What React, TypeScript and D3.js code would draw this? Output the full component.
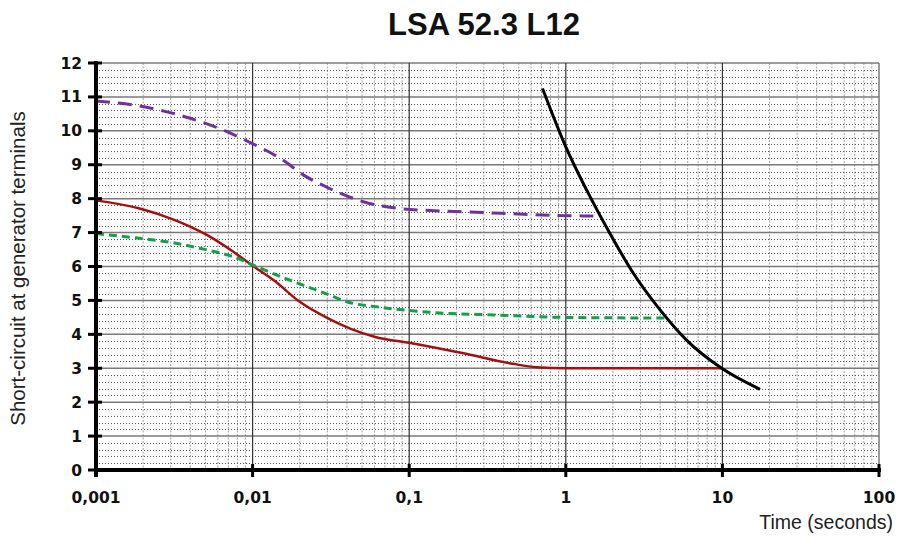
import { useEffect, useRef } from 'react'
import * as d3 from 'd3'

// time in seconds, value in multiples of nominal current
const purpleTime = [0.001, 0.0019, 0.004, 0.0065, 0.0099, 0.015, 0.022, 0.031, 0.041, 0.051, 0.083, 0.136, 0.3, 0.54, 0.96, 1.5]
const purpleValue = [10.88, 10.73, 10.37, 10.02, 9.63, 9.19, 8.65, 8.3, 8.06, 7.91, 7.72, 7.65, 7.59, 7.54, 7.5, 7.49]

const redTime = [0.001, 0.0019, 0.0031, 0.0051, 0.0075, 0.0101, 0.0136, 0.02, 0.031, 0.042, 0.06, 0.106, 0.222, 0.46, 0.65, 1, 10]
const redValue = [7.95, 7.71, 7.39, 6.93, 6.44, 6.01, 5.6, 4.96, 4.45, 4.17, 3.93, 3.73, 3.44, 3.13, 3.03, 3.0, 3.0]

const greenTime = [0.001, 0.0019, 0.0031, 0.0051, 0.0075, 0.0101, 0.0142, 0.021, 0.031, 0.04, 0.065, 0.136, 0.36, 0.96, 4.3]
const greenValue = [6.97, 6.83, 6.7, 6.49, 6.29, 6.04, 5.75, 5.45, 5.16, 4.96, 4.8, 4.65, 4.57, 4.5, 4.48]

const blackTime = [0.71, 1.0, 1.36, 1.91, 2.7, 4.0, 5.9, 9.9, 17.4]
const blackValue = [11.25, 9.53, 8.25, 6.98, 5.8, 4.72, 3.83, 3.0, 2.38]

const xTicks = [0.001, 0.01, 0.1, 1, 10, 100]
const xTickLabels = ['0,001', '0,01', '0,1', '1', '10', '100']
const yTicks = d3.range(0, 13)

const series = [
  { time: purpleTime, value: purpleValue, color: '#7030a0', width: 3, dash: '14,8' },
  { time: redTime, value: redValue, color: '#a50f0f', width: 2.5, dash: null },
  { time: greenTime, value: greenValue, color: '#12a048', width: 3, dash: '8,5' },
  { time: blackTime, value: blackValue, color: '#000000', width: 3, dash: null }
]

const App = () => {
  const svgRef = useRef<SVGSVGElement>(null)
  const width = 901
  const height = 537
  const margin = { top: 63, right: 22, bottom: 67, left: 96 }

  useEffect(() => {
    if (!svgRef.current) return
    const svg = d3.select(svgRef.current)
    svg.selectAll('*').remove()

    const x = d3.scaleLog().domain([0.001, 100]).range([margin.left, width - margin.right])
    const y = d3.scaleLinear().domain([0, 12]).range([height - margin.bottom, margin.top])

    const [x0, x1] = x.range()
    const [y0, y1] = y.range()

    // minor vertical grid
    const minorX: number[] = []
    for (let e = -3; e < 2; e++) {
      for (let k = 2; k <= 9; k++) minorX.push(k * Math.pow(10, e))
    }
    svg.append('g')
      .selectAll('line')
      .data(minorX)
      .join('line')
      .attr('x1', d => x(d)).attr('x2', d => x(d))
      .attr('y1', y1).attr('y2', y0)
      .attr('stroke', '#a0a0a0')
      .attr('stroke-width', 1)
      .attr('stroke-dasharray', '2,1.5')

    // minor horizontal grid
    const minorY = d3.range(0, 60).map(i => i * 0.2).filter(v => Math.abs(v - Math.round(v)) > 0.01)
    svg.append('g')
      .selectAll('line')
      .data(minorY)
      .join('line')
      .attr('x1', x0).attr('x2', x1)
      .attr('y1', d => Math.round(y(d)) + 0.5).attr('y2', d => Math.round(y(d)) + 0.5)
      .attr('stroke', '#555')
      .attr('stroke-width', 1)
      .attr('stroke-dasharray', '1,2')

    // major horizontal grid
    svg.append('g')
      .selectAll('line')
      .data(yTicks.slice(1))
      .join('line')
      .attr('x1', x0).attr('x2', x1)
      .attr('y1', d => y(d)).attr('y2', d => y(d))
      .attr('stroke', '#7a7a7a')
      .attr('stroke-width', 1.5)

    // major vertical grid
    svg.append('g')
      .selectAll('line')
      .data(xTicks.slice(1))
      .join('line')
      .attr('x1', d => x(d)).attr('x2', d => x(d))
      .attr('y1', y1).attr('y2', y0)
      .attr('stroke', d => (d === 100 ? '#7a7a7a' : '#333'))
      .attr('stroke-width', d => (d === 100 ? 1.5 : 1.2))

    // series
    series.forEach(s => {
      const pts = s.time.map((t, i) => [t, s.value[i]] as [number, number])
      const line = d3.line<[number, number]>()
        .x(d => x(d[0]))
        .y(d => y(d[1]))
        .curve(d3.curveMonotoneX)
      svg.append('path')
        .datum(pts)
        .attr('fill', 'none')
        .attr('stroke', s.color)
        .attr('stroke-width', s.width)
        .attr('stroke-dasharray', s.dash)
        .attr('d', line)
    })

    // axes
    svg.append('line')
      .attr('x1', x0).attr('x2', x0)
      .attr('y1', y1 - 2).attr('y2', y0 + 7)
      .attr('stroke', '#000').attr('stroke-width', 4)
    svg.append('line')
      .attr('x1', x0 - 2).attr('x2', x1 + 2)
      .attr('y1', y0).attr('y2', y0)
      .attr('stroke', '#000').attr('stroke-width', 4)

    svg.append('g')
      .selectAll('line')
      .data(yTicks)
      .join('line')
      .attr('x1', x0 - 8).attr('x2', x0 + 6)
      .attr('y1', d => y(d)).attr('y2', d => y(d))
      .attr('stroke', '#000').attr('stroke-width', 3)

    svg.append('g')
      .selectAll('line')
      .data(xTicks)
      .join('line')
      .attr('x1', d => x(d)).attr('x2', d => x(d))
      .attr('y1', y0 - 6).attr('y2', y0 + 7)
      .attr('stroke', '#000').attr('stroke-width', 3)

    const tickFont = 'DejaVu Sans, Verdana, sans-serif'
    svg.append('g')
      .selectAll('text')
      .data(yTicks)
      .join('text')
      .attr('x', x0 - 14)
      .attr('y', d => y(d))
      .attr('dy', '0.36em')
      .attr('text-anchor', 'end')
      .attr('font-family', tickFont)
      .attr('font-weight', 'bold')
      .attr('font-size', 15.5)
      .attr('fill', '#111')
      .text(d => String(d))

    svg.append('g')
      .selectAll('text')
      .data(xTicks)
      .join('text')
      .attr('x', d => x(d))
      .attr('y', y0 + 33)
      .attr('text-anchor', 'middle')
      .attr('font-family', tickFont)
      .attr('font-weight', 'bold')
      .attr('font-size', 15.5)
      .attr('fill', '#111')
      .text((_, i) => xTickLabels[i])

    // titles
    svg.append('text')
      .attr('x', 484)
      .attr('y', 35)
      .attr('text-anchor', 'middle')
      .attr('font-family', 'Liberation Sans, Arial, sans-serif')
      .attr('font-weight', 'bold')
      .attr('font-size', 31)
      .attr('fill', '#111')
      .text('LSA 52.3 L12')

    svg.append('text')
      .attr('x', 893)
      .attr('y', 529)
      .attr('text-anchor', 'end')
      .attr('font-family', 'Liberation Sans, Arial, sans-serif')
      .attr('font-size', 19.5)
      .attr('fill', '#222')
      .text('Time (seconds)')

    svg.append('text')
      .attr('transform', `translate(25,${(y0 + y1) / 2 + 2}) rotate(-90)`)
      .attr('text-anchor', 'middle')
      .attr('font-family', 'Liberation Sans, Arial, sans-serif')
      .attr('font-size', 20.5)
      .attr('fill', '#222')
      .text('Short-circuit at generator terminals')
  }, [])

  return (
    <div style={{ position: 'absolute', left: 0, top: 0 }}>
      <svg ref={svgRef} width={width} height={height} style={{ display: 'block', background: '#fff' }} />
    </div>
  )
}

export default App
